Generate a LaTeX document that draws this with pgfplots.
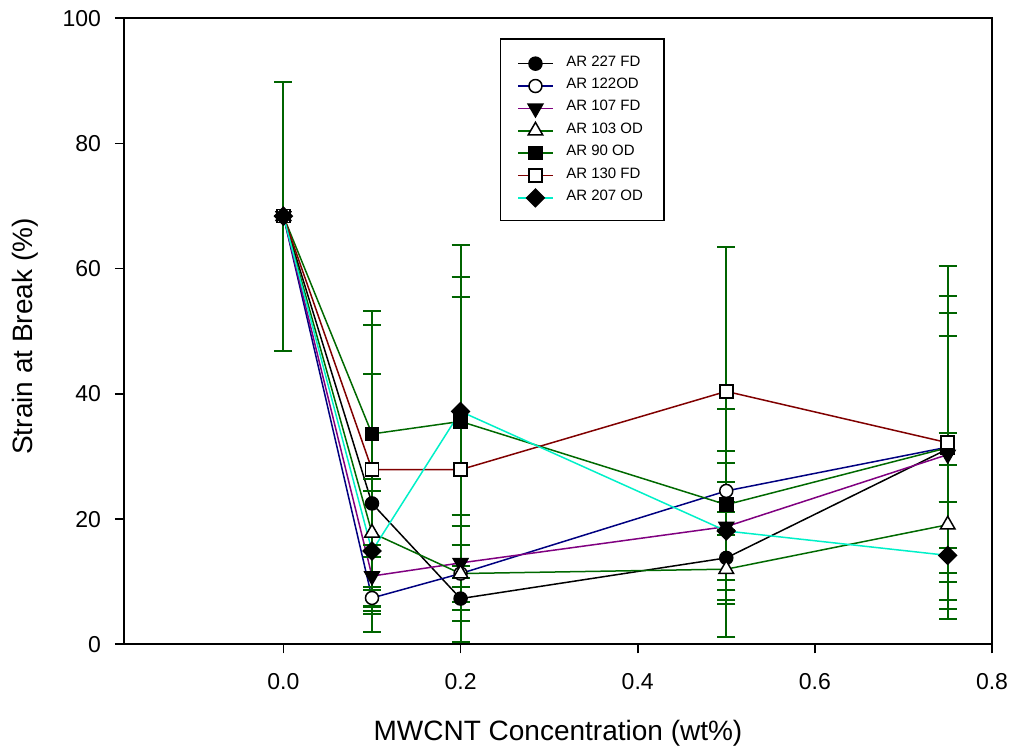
\documentclass[border=0pt]{standalone}
\usepackage{pgfplots}
\pgfplotsset{compat=1.18}
\usepackage{fontspec}
\setmainfont{Liberation Sans}

\definecolor{errgreen}{RGB}{0,100,0}
\definecolor{navyline}{RGB}{0,0,128}
\definecolor{purpleline}{RGB}{128,0,128}
\definecolor{greenline}{RGB}{0,105,0}
\definecolor{maroonline}{RGB}{128,0,0}
\definecolor{aqualine}{RGB}{0,240,200}

% strain at break (%) for each aspect ratio / drying route
\pgfplotstableread{
x    y     e
0    68.4  21.5
0.1  22.5  20.6
0.2  7.3   1.8
0.5  13.8  7.3
0.75 31.2  2.6
}\arA
\pgfplotstableread{
x    y     e
0    68.4  0
0.1  7.4   1.3
0.2  11.3  4.5
0.5  24.5  6.3
0.75 31.5  21.5
}\arB
\pgfplotstableread{
x    y     e
0    68.4  0
0.1  10.9  5.0
0.2  13.0  7.6
0.5  18.8  10.2
0.75 30.3  18.9
}\arC
\pgfplotstableread{
x    y     e
0    68.4  0
0.1  17.8  8.6
0.2  11.3  7.6
0.5  12.0  10.8
0.75 19.1  3.7
}\arD
\pgfplotstableread{
x    y     e
0    68.4  0
0.1  33.6  19.7
0.2  35.6  23.1
0.5  22.3  15.3
0.75 31.4  24.3
}\arE
\pgfplotstableread{
x    y     e
0    68.4  0
0.1  27.9  23.1
0.2  27.9  27.5
0.5  40.4  23.0
0.75 32.2  28.2
}\arF
\pgfplotstableread{
x    y     e
0    68.4  0
0.1  14.9  9.6
0.2  37.2  26.6
0.5  18.1  7.8
0.75 14.2  8.5
}\arG

\pgfplotsset{
  errbars/.style={draw=none, mark=none, forget plot,
    error bars/.cd, y dir=both, y explicit,
    error bar style={draw=errgreen, line width=1pt},
    error mark options={rotate=90, mark size=4.5pt, draw=errgreen, line width=1pt}},
}

\begin{document}
\begin{tikzpicture}
\useasboundingbox (-62pt,-52.35pt) rectangle (444.5pt,322.15pt);
\begin{axis}[
  at={(0,0)}, anchor=south west,
  scale only axis, width=434pt, height=313pt,
  xmin=-0.18, xmax=0.8, ymin=0, ymax=100,
  xtick={0,0.2,0.4,0.6,0.8}, ytick={0,20,40,60,80,100},
  xtick pos=bottom, ytick pos=left,
  tick align=outside, major tick length=4.5pt,
  minor tick num=0,
  axis line style={line width=0.8pt},
  every tick/.style={black, line width=0.8pt},
  /pgf/number format/assume math mode=true,
  tick label style={font=\fontsize{11.5}{13}\selectfont},
  scaled x ticks=false,
  xticklabel style={/pgf/number format/fixed, /pgf/number format/fixed zerofill,
    /pgf/number format/precision=1, anchor=center, yshift=-14pt},
  yticklabel style={anchor=east, xshift=-3.5pt},
  xlabel={MWCNT Concentration (wt\%)},
  ylabel={Strain at Break (\%)},
  every axis x label/.style={at={(axis description cs:0.5,-0.1417)}, anchor=center,
    font=\fontsize{14}{16}\selectfont},
  every axis y label/.style={at={(axis description cs:-0.114,0.4917)}, anchor=center, rotate=90,
    font=\fontsize{14}{16}\selectfont},
  legend style={at={(0.433,0.9685)}, anchor=north west, draw=black, line width=0.8pt,
    font=\fontsize{7.5}{9}\selectfont, inner xsep=8.5pt, inner ysep=6.45pt,
    row sep=0.45pt, column sep=4.5pt},
  legend image post style={yshift=-0.6pt},
  legend cell align=left,
  every axis plot/.append style={line width=0.75pt},
]
\addplot[black, mark=*, mark size=3.25pt, mark options={draw=black, fill=black}] table[x=x,y=y] {\arA};
\addlegendentry{AR 227 FD}
\addplot[navyline, mark=*, mark size=3.25pt, mark options={draw=black, fill=white}] table[x=x,y=y] {\arB};
\addlegendentry{AR 122OD}
\addplot[purpleline, mark=triangle*, mark size=4.2pt, mark options={draw=black, fill=black, rotate=180}] table[x=x,y=y] {\arC};
\addlegendentry{AR 107 FD}
\addplot[greenline, mark=triangle*, mark size=4.2pt, mark options={draw=black, fill=white}] table[x=x,y=y] {\arD};
\addlegendentry{AR 103 OD}
\addplot[greenline, mark=square*, mark size=3.25pt, mark options={draw=black, fill=black}] table[x=x,y=y] {\arE};
\addlegendentry{AR 90 OD}
\addplot[maroonline, mark=square*, mark size=3.25pt, mark options={draw=black, fill=white}] table[x=x,y=y] {\arF};
\addlegendentry{AR 130 FD}
\addplot[aqualine, mark=square*, mark size=3.1pt, mark options={draw=black, fill=black, rotate=45}] table[x=x,y=y] {\arG};
\addlegendentry{AR 207 OD}
% error bars drawn over the series
\addplot[errbars] table[x=x,y=y,y error=e] {\arA};
\addplot[errbars] table[x=x,y=y,y error=e] {\arB};
\addplot[errbars] table[x=x,y=y,y error=e] {\arC};
\addplot[errbars] table[x=x,y=y,y error=e] {\arD};
\addplot[errbars] table[x=x,y=y,y error=e] {\arE};
\addplot[errbars] table[x=x,y=y,y error=e] {\arF};
\addplot[errbars] table[x=x,y=y,y error=e] {\arG};
\end{axis}
\end{tikzpicture}
\end{document}
